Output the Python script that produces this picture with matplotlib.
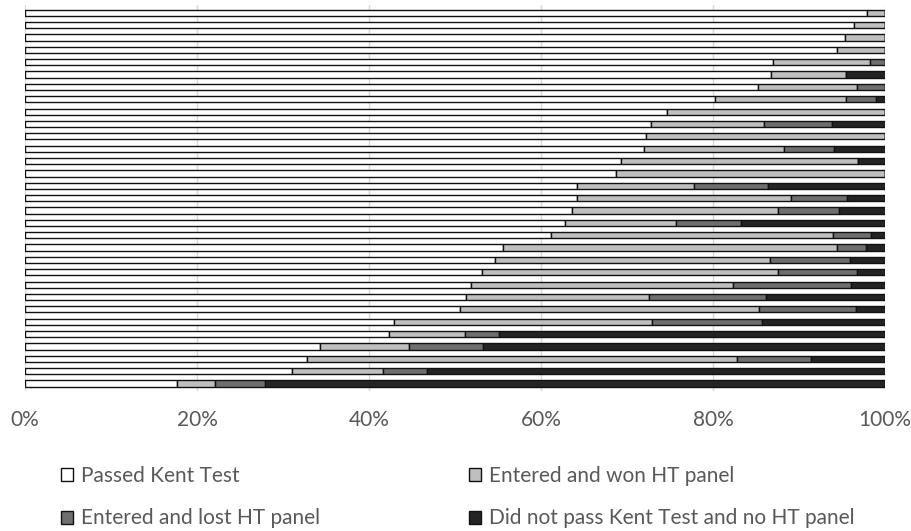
import numpy as np
import matplotlib
matplotlib.use("Agg")
import matplotlib.pyplot as plt
from matplotlib.patches import Patch

plt.rcParams["font.family"] = ["Lato", "DejaVu Sans"]

# shares in percent, one entry per bar (top bar first)
passed = [97.9, 96.4, 95.3, 94.4, 87.0, 86.8, 85.2, 80.2, 74.6, 72.8,
          72.2, 72.0, 69.3, 68.7, 64.2, 64.2, 63.6, 62.8, 61.2, 55.6,
          54.7, 53.1, 51.9, 51.3, 50.6, 42.9, 42.3, 34.3, 32.8, 31.1, 17.7]
won = [2.1, 3.6, 4.7, 5.6, 11.3, 8.7, 11.5, 15.3, 25.4, 13.1,
       27.8, 16.2, 27.6, 31.3, 13.6, 24.9, 23.9, 12.9, 32.8, 38.8,
       31.9, 34.4, 30.4, 21.2, 34.8, 30.0, 8.9, 10.4, 50.0, 10.5, 4.4]
lost = [0.0, 0.0, 0.0, 0.0, 1.7, 0.0, 3.3, 3.4, 0.0, 7.9,
        0.0, 5.9, 0.0, 0.0, 8.6, 6.5, 7.2, 7.6, 4.4, 3.4,
        9.3, 9.3, 13.8, 13.7, 11.2, 12.8, 3.9, 8.6, 8.6, 5.2, 5.8]
not_passed = [0.0, 0.0, 0.0, 0.0, 0.0, 4.5, 0.0, 1.1, 0.0, 6.2,
              0.0, 5.9, 3.1, 0.0, 13.6, 4.4, 5.3, 16.7, 1.6, 2.2,
              4.1, 3.2, 3.9, 13.8, 3.4, 14.3, 44.9, 46.7, 8.6, 53.2, 72.1]

labels = ["Passed Kent Test", "Entered and won HT panel",
          "Entered and lost HT panel", "Did not pass Kent Test and no HT panel"]
colors = ["#ffffff", "#bfbfbf", "#6e6e6e", "#242424"]

series = [passed, won, lost, not_passed]
y = np.arange(len(passed))

fig = plt.figure(figsize=(9.12, 5.31), dpi=100)
ax = fig.add_axes([0.0274, 0.2637, 0.9430, 0.7263])

left = np.zeros(len(passed))
for vals, col in zip(series, colors):
    v = np.array(vals)
    ax.barh(y, v, left=left, height=0.5, color=col,
            edgecolor="#111111", linewidth=1.0, zorder=3)
    left += v

ax.set_xlim(0, 100)
ax.set_ylim(len(passed) - 0.4, -0.6)
ax.set_xticks([0, 20, 40, 60, 80, 100])
ax.set_xticklabels(["0%", "20%", "40%", "60%", "80%", "100%"])
ax.set_yticks([])
ax.tick_params(axis="x", length=0, pad=14, labelsize=15, labelcolor="#595959")
ax.grid(axis="x", color="#d9d9d9", linewidth=1.0, zorder=0)
for s in ax.spines.values():
    s.set_visible(False)

handles = [Patch(facecolor=c, edgecolor="#111111", linewidth=1.0) for c in colors]
leg_kw = dict(loc="center left", frameon=False, fontsize=15,
              handlelength=0.58, handleheight=0.58, handletextpad=0.38,
              labelspacing=1.1, borderpad=0, borderaxespad=0,
              labelcolor="#595959")
fig.legend([handles[0], handles[2]], [labels[0], labels[2]],
           bbox_to_anchor=(0.067, 0.064), **leg_kw)
fig.legend([handles[1], handles[3]], [labels[1], labels[3]],
           bbox_to_anchor=(0.514, 0.064), **leg_kw)

fig.savefig("out.png", dpi=100)
